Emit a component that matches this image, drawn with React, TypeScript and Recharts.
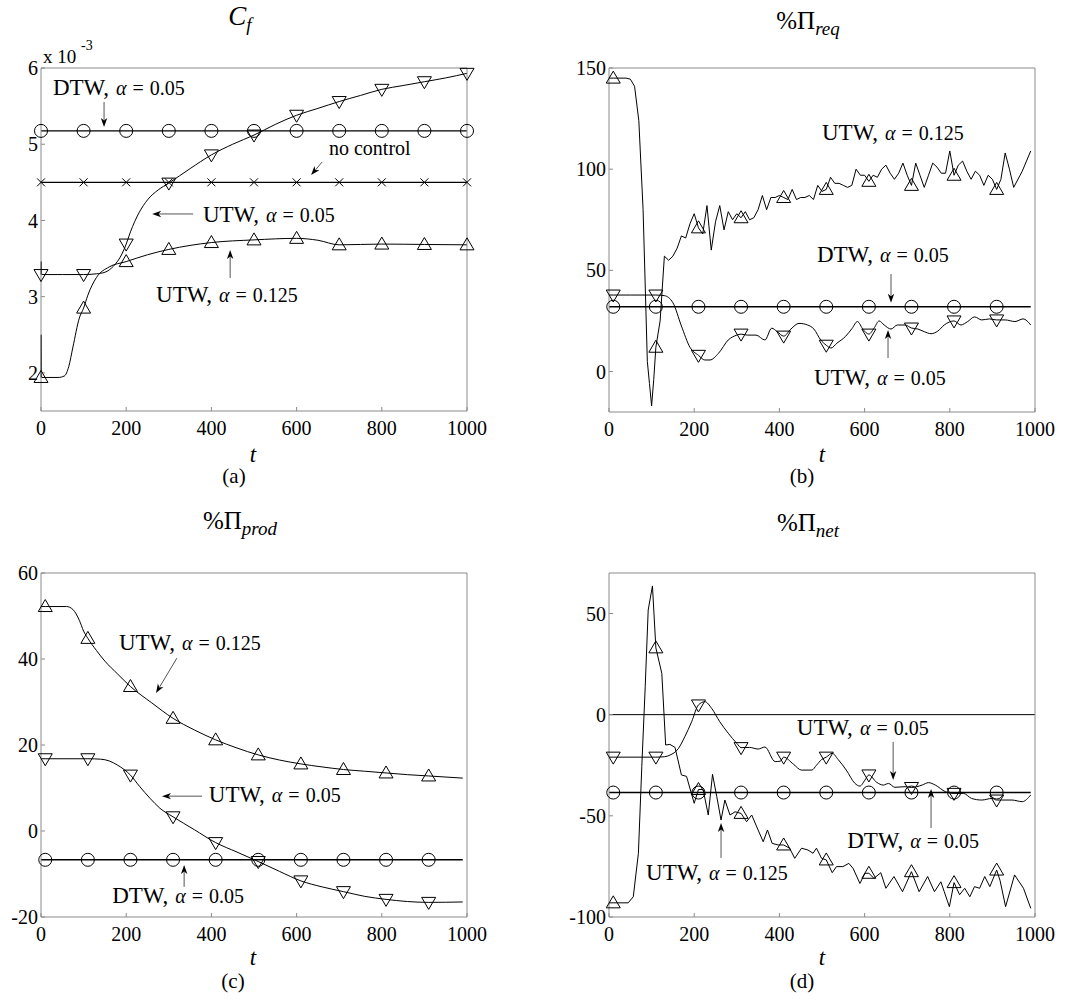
import React from 'react';
import { LineChart, Line, XAxis, YAxis, ReferenceLine, ReferenceDot } from 'recharts';

const FONT = 'Liberation Serif, DejaVu Serif, serif';
const AXIS = '#8a8a8a';

// ---------------- tick labels ----------------
const xTicks = [0, 200, 400, 600, 800, 1000];
const aYTicks = [2, 3, 4, 5, 6];
const bYTicks = [0, 50, 100, 150];
const cYTicks = [-20, 0, 20, 40, 60];
const dYTicks = [-100, -50, 0, 50];

// marker positions
const aMarkT = [0, 100, 200, 300, 400, 500, 600, 700, 800, 900, 1000];
const bMarkT = [10, 110, 210, 310, 410, 510, 610, 710, 810, 910];

// ---------------- (a) C_f  (x 10^-3) ----------------
const aDtwT = [0, 100, 200, 300, 400, 500, 600, 700, 800, 900, 1000];
const aDtwV = [5.175, 5.175, 5.175, 5.175, 5.175, 5.175, 5.175, 5.175, 5.175, 5.175, 5.175];
const aNoCtrlT = [0, 100, 200, 300, 400, 500, 600, 700, 800, 900, 1000];
const aNoCtrlV = [4.5, 4.5, 4.5, 4.5, 4.5, 4.5, 4.5, 4.5, 4.5, 4.5, 4.5];
const aUtw05T = [0, 0.6, 1.5, 50, 100, 130, 150, 170, 190, 200, 210, 230, 250, 275, 300, 350, 400, 450, 500, 550, 600, 650, 700, 750, 800, 850, 900, 950, 1000];
const aUtw05V = [3.29, 3.46, 3.29, 3.29, 3.29, 3.3, 3.32, 3.4, 3.56, 3.69, 3.85, 4.1, 4.27, 4.4, 4.49, 4.68, 4.86, 5.0, 5.12, 5.26, 5.38, 5.47, 5.56, 5.64, 5.72, 5.77, 5.82, 5.87, 5.93];
const aUtw125T = [0, 0.6, 1.5, 40, 55, 65, 75, 90, 100, 110, 130, 160, 200, 250, 300, 400, 500, 600, 650, 700, 800, 900, 1000];
const aUtw125V = [1.94, 2.5, 1.94, 1.94, 1.96, 2.08, 2.34, 2.72, 2.85, 3.02, 3.25, 3.39, 3.46, 3.55, 3.62, 3.71, 3.745, 3.765, 3.74, 3.68, 3.69, 3.685, 3.68];

// ---------------- (b) %Pi_req ----------------
const bDtwT = [0, 10, 110, 210, 310, 410, 510, 610, 710, 810, 910, 990];
const bDtwV = [32, 32, 32, 32, 32, 32, 32, 32, 32, 32, 32, 32];
const bUtw05T = [0, 10, 50, 110, 130, 150, 170, 190, 210, 225, 237, 257, 280, 300, 310, 325, 345, 366, 382, 395, 410, 427, 446, 466, 481, 497, 510, 521, 535, 555, 571, 583, 597, 610, 623, 634, 646, 662, 677, 695, 710, 725, 740, 756, 772, 787, 810, 826, 842, 858, 875, 893, 910, 930, 953, 972, 990];
const bUtw05V = [37.8, 37.8, 37.8, 37.8, 37.5, 34, 22.5, 12, 8, 5.7, 5.7, 9, 15.6, 18, 18.5, 18, 18, 15.6, 21.4, 19.7, 17.5, 21, 23.8, 23, 21, 15.6, 13, 11.6, 14, 17.3, 21.4, 24.7, 20.6, 18.5, 21.7, 25, 23, 21, 23, 23, 21.5, 21, 19.7, 18.7, 20, 23, 25, 23, 24.7, 27, 25.5, 26, 25.5, 25.5, 24.7, 26, 23];
const bUtw125T = [0, 10, 20, 40, 50, 60, 70, 80, 90, 95, 100, 105, 110, 120, 130, 140, 150, 160, 170, 180, 190, 200, 210, 220, 230, 240, 250, 260, 270, 280, 290, 300, 310, 320, 330, 340, 350, 360, 370, 380, 390, 400, 410, 420, 430, 440, 450, 460, 470, 480, 490, 500, 510, 520, 530, 540, 550, 560, 570, 580, 590, 600, 610, 620, 630, 640, 650, 660, 670, 680, 690, 700, 710, 720, 730, 740, 750, 760, 770, 780, 790, 800, 810, 820, 830, 840, 850, 860, 870, 880, 890, 900, 910, 920, 930, 940, 950, 970, 990];
const bUtw125V = [145, 145, 145, 145, 144.5, 141, 124, 80, 5, -6, -17, -4, 12, 25, 57, 55, 57, 61, 67, 66, 73, 78, 71, 68, 82, 60, 74, 82, 70, 79, 75, 78, 76, 79, 75, 76, 80, 87, 80, 86, 86, 87, 86, 85, 90, 85, 86, 86, 87, 85, 92, 89, 90, 96, 93, 93, 92, 91, 92, 100, 97, 97, 94, 97, 96, 100, 102, 98, 95, 98, 103, 97, 92, 103, 97, 91, 97, 103, 101, 98, 98, 109, 97, 102, 104, 99, 95, 99, 97, 92, 97, 95, 90, 95, 108, 100, 91, 99, 109];

// ---------------- (c) %Pi_prod ----------------
const cDtwT = [0, 10, 110, 210, 310, 410, 510, 610, 710, 810, 910, 990];
const cDtwV = [-6.7, -6.7, -6.7, -6.7, -6.7, -6.7, -6.7, -6.7, -6.7, -6.7, -6.7, -6.7];
const cUtw125T = [0, 10, 60, 75, 90, 100, 110, 130, 150, 180, 210, 260, 310, 360, 410, 460, 510, 560, 610, 660, 710, 760, 810, 860, 910, 990];
const cUtw125V = [52.2, 52.2, 52.2, 51.5, 49, 46.5, 44.8, 42, 39.5, 36.5, 33.6, 29.8, 26.2, 23.5, 21.2, 19.3, 17.7, 16.5, 15.6, 14.9, 14.3, 13.9, 13.5, 13.1, 12.8, 12.3];
const cUtw05T = [0, 10, 110, 140, 160, 180, 210, 232, 256, 279, 310, 360, 410, 460, 510, 560, 610, 660, 710, 760, 810, 860, 910, 990];
const cUtw05V = [16.8, 16.8, 16.8, 16.7, 16.3, 15.3, 13, 10.3, 7.6, 5.3, 3.3, 0.3, -2.7, -4.9, -7.1, -9.4, -11.6, -13, -14.1, -15.2, -15.9, -16.4, -16.6, -16.5];

// ---------------- (d) %Pi_net ----------------
const dZeroT = [0, 1000];
const dZeroV = [0, 0];
const dDtwT = [0, 10, 110, 210, 310, 410, 510, 610, 710, 810, 910, 990];
const dDtwV = [-38.5, -38.5, -38.5, -38.5, -38.5, -38.5, -38.5, -38.5, -38.5, -38.5, -38.5, -38.5];
const dUtw05T = [0, 10, 110, 130, 143, 163, 178, 194, 210, 225, 241, 260, 280, 300, 310, 330, 350, 366, 390, 402, 410, 433, 452, 476, 487, 499, 510, 524, 538, 557, 577, 589, 601, 610, 628, 644, 656, 671, 695, 710, 735, 750, 766, 790, 810, 832, 851, 875, 899, 910, 922, 946, 970, 990];
const dUtw05V = [-21, -21, -21, -20.8, -20, -16.7, -10.9, -3.5, 4.8, 6.4, 3.1, -3.5, -9.2, -14.2, -16.3, -16.2, -17, -16, -23.2, -23, -21, -24.5, -27.4, -27.4, -25, -22.2, -21, -19.1, -22.2, -27.4, -33.9, -35.3, -32.3, -29.8, -33.4, -34.8, -34, -35.9, -35.6, -36, -34.8, -33.6, -34.8, -38.1, -38.9, -38.9, -41.4, -42.2, -41.4, -42.2, -42.2, -42.2, -43, -39.7];
const dUtw125T = [0, 10, 45, 57, 69, 77, 85, 92, 102, 110, 124, 133, 143, 155, 170, 182, 200, 210, 221, 233, 243, 253, 263, 272, 284, 296, 310, 323, 335, 350, 362, 372, 383, 397, 410, 424, 436, 452, 467, 479, 487, 499, 510, 524, 534, 549, 563, 573, 589, 601, 610, 622, 638, 650, 669, 689, 710, 728, 748, 764, 779, 787, 799, 810, 823, 835, 847, 858, 870, 882, 894, 910, 918, 931, 952, 973, 990];
const dUtw125V = [-93, -93, -93, -90, -68.5, -25.7, 13.8, 51.7, 63.6, 33, 20.4, -15, -14.7, -16.2, -29.8, -30.5, -43.8, -37, -37, -49.6, -29.5, -40.5, -52.1, -42.2, -49.6, -48, -48.8, -52.9, -49.6, -57, -62.8, -57, -63.6, -64.4, -64.4, -66, -71, -66, -66.9, -68.5, -66, -71, -71.8, -78.1, -75.1, -75.1, -73.5, -76, -83.4, -78.4, -78.4, -80.9, -78.1, -85.8, -80, -87.5, -77.6, -87.5, -80, -87.5, -82.6, -87.5, -94.9, -83, -89, -85.8, -90, -85, -85.8, -80, -85, -76.8, -82, -94.9, -79.2, -85.8, -95.7];

// ---------------- helpers ----------------
type Pt = { t: number; v: number };
const zip = (ts: number[], vs: number[]): Pt[] => ts.map((t, i) => ({ t, v: vs[i] }));

type MarkerKind = 'circle' | 'up' | 'down' | 'cross' | 'none';

const drawMarker = (kind: MarkerKind, cx: number, cy: number, key: string) => {
  const common = { fill: 'none', stroke: '#000', strokeWidth: 1 };
  if (kind === 'circle') return <circle key={key} cx={cx} cy={cy} r={6.5} {...common} />;
  if (kind === 'up')
    return <polygon key={key} points={`${cx},${cy - 7} ${cx - 7},${cy + 5} ${cx + 7},${cy + 5}`} {...common} />;
  if (kind === 'down')
    return <polygon key={key} points={`${cx},${cy + 7} ${cx - 7},${cy - 5} ${cx + 7},${cy - 5}`} {...common} />;
  if (kind === 'cross')
    return (
      <g key={key}>
        <line x1={cx - 4} y1={cy - 4} x2={cx + 4} y2={cy + 4} stroke="#000" strokeWidth={1} />
        <line x1={cx - 4} y1={cy + 4} x2={cx + 4} y2={cy - 4} stroke="#000" strokeWidth={1} />
      </g>
    );
  return <g key={key} />;
};

const makeDot = (kind: MarkerKind, marks: number[]) => (props: any) => {
  const { cx, cy, payload, index } = props;
  const key = `m-${index}`;
  if (kind === 'none' || cx == null || cy == null || !payload || !marks.includes(payload.t)) return <g key={key} />;
  return drawMarker(kind, cx, cy, key);
};

const EmptyTick = () => <g />;

const Arrow = (p: any) => {
  const { x1, y1, x2, y2 } = p;
  const dx = x2 - x1;
  const dy = y2 - y1;
  const len = Math.hypot(dx, dy) || 1;
  const ux = dx / len;
  const uy = dy / len;
  const hl = 9;
  const hw = 3.2;
  const bx = x2 - ux * hl;
  const by = y2 - uy * hl;
  const px = -uy;
  const py = ux;
  return (
    <g>
      <line x1={x1} y1={y1} x2={bx + ux * 2} y2={by + uy * 2} stroke="#555" strokeWidth={1} />
      <polygon
        points={`${x2},${y2} ${bx + px * hw},${by + py * hw} ${bx + ux * 2.5},${by + uy * 2.5} ${bx - px * hw},${by - py * hw}`}
        fill="#000"
      />
    </g>
  );
};

type LabelDef = { x: number; y: number; main: string; alpha?: string };
type ArrowDef = { x1: number; y1: number; x2: number; y2: number };
type SeriesDef = { data: Pt[]; kind: MarkerKind; marks: number[]; curve: 'linear' | 'monotoneX'; w: number };

const LabelText = ({ cx, cy, lab }: { cx: number; cy: number; lab: LabelDef }) => (
  <text x={cx} y={cy} style={{ fontFamily: FONT }} fill="#000">
    {lab.alpha ? (
      <>
        <tspan fontSize={23}>{lab.main}</tspan>
        <tspan fontSize={20} dx={7} fontStyle="italic">α</tspan>
        <tspan fontSize={20} dx={6}>=</tspan>
        <tspan fontSize={20} dx={6}>{lab.alpha}</tspan>
      </>
    ) : (
      <tspan fontSize={20}>{lab.main}</tspan>
    )}
  </text>
);

type PanelProps = {
  left: number;
  top: number;
  w: number;
  h: number;
  plot: { l: number; t: number; r: number; b: number };
  yDomain: [number, number];
  yTicks: number[];
  series: SeriesDef[];
  labels: LabelDef[];
  arrows: ArrowDef[];
};

const tickStyle = { fill: '#000', fontSize: 20, fontFamily: FONT, style: { fontFamily: FONT } };

const Panel = ({ left, top, w, h, plot, yDomain, yTicks, series, labels, arrows }: PanelProps) => {
  const margin = {
    top: plot.t - top - 1,
    left: plot.l - left - 1,
    right: left + w - plot.r - 1,
    bottom: top + h - plot.b - 1,
  };
  return (
    <div style={{ position: 'absolute', left, top, width: w, height: h, fontFamily: FONT }}>
      <LineChart width={w} height={h} margin={margin} style={{ fontFamily: FONT }}>
        <XAxis
          type="number"
          dataKey="t"
          domain={[0, 1000]}
          ticks={xTicks}
          interval={0}
          height={1}
          tickSize={-4}
          tickMargin={14}
          stroke={AXIS}
          tick={tickStyle}
        />
        <XAxis
          xAxisId="top"
          orientation="top"
          type="number"
          dataKey="t"
          domain={[0, 1000]}
          ticks={xTicks}
          interval={0}
          height={1}
          tickSize={-4}
          stroke={AXIS}
          tick={EmptyTick}
        />
        <YAxis
          type="number"
          domain={yDomain}
          ticks={yTicks}
          interval={0}
          width={1}
          tickSize={-4}
          tickMargin={7}
          stroke={AXIS}
          tick={tickStyle}
        />
        <YAxis
          yAxisId="right"
          orientation="right"
          type="number"
          domain={yDomain}
          ticks={yTicks}
          interval={0}
          width={1}
          tickSize={-4}
          stroke={AXIS}
          tick={EmptyTick}
        />
        {series.map((s, i) => (
          <Line
            key={`s${i}`}
            data={s.data}
            dataKey="v"
            type={s.curve}
            stroke="#000"
            strokeWidth={s.w}
            dot={makeDot(s.kind, s.marks)}
            activeDot={false}
            isAnimationActive={false}
          />
        ))}
        {arrows.map((a, i) => (
          <ReferenceLine
            key={`a${i}`}
            segment={[{ x: a.x1, y: a.y1 }, { x: a.x2, y: a.y2 }]}
            shape={(p: any) => <Arrow {...p} />}
          />
        ))}
        {labels.map((lab, i) => (
          <ReferenceDot
            key={`l${i}`}
            x={lab.x}
            y={lab.y}
            r={0}
            shape={(p: any) => <LabelText cx={p.cx} cy={p.cy} lab={lab} />}
          />
        ))}
      </LineChart>
    </div>
  );
};

// ---------------- panel definitions ----------------
const seriesA: SeriesDef[] = [
  { data: zip(aDtwT, aDtwV), kind: 'circle', marks: aMarkT, curve: 'linear', w: 1.4 },
  { data: zip(aNoCtrlT, aNoCtrlV), kind: 'cross', marks: aMarkT, curve: 'linear', w: 1.4 },
  { data: zip(aUtw05T, aUtw05V), kind: 'down', marks: aMarkT, curve: 'monotoneX', w: 1 },
  { data: zip(aUtw125T, aUtw125V), kind: 'up', marks: aMarkT, curve: 'monotoneX', w: 1 },
];
const seriesB: SeriesDef[] = [
  { data: zip(bDtwT, bDtwV), kind: 'circle', marks: bMarkT, curve: 'linear', w: 1.4 },
  { data: zip(bUtw05T, bUtw05V), kind: 'down', marks: bMarkT, curve: 'monotoneX', w: 1 },
  { data: zip(bUtw125T, bUtw125V), kind: 'up', marks: bMarkT, curve: 'linear', w: 1 },
];
const seriesC: SeriesDef[] = [
  { data: zip(cDtwT, cDtwV), kind: 'circle', marks: bMarkT, curve: 'linear', w: 1.4 },
  { data: zip(cUtw125T, cUtw125V), kind: 'up', marks: bMarkT, curve: 'monotoneX', w: 1 },
  { data: zip(cUtw05T, cUtw05V), kind: 'down', marks: bMarkT, curve: 'monotoneX', w: 1 },
];
const seriesD: SeriesDef[] = [
  { data: zip(dZeroT, dZeroV), kind: 'none', marks: [], curve: 'linear', w: 1 },
  { data: zip(dDtwT, dDtwV), kind: 'circle', marks: bMarkT, curve: 'linear', w: 1.4 },
  { data: zip(dUtw05T, dUtw05V), kind: 'down', marks: bMarkT, curve: 'monotoneX', w: 1 },
  { data: zip(dUtw125T, dUtw125V), kind: 'up', marks: bMarkT, curve: 'linear', w: 1 },
];

const labelsA: LabelDef[] = [
  { x: 28, y: 5.646, main: 'DTW,', alpha: '0.05' },
  { x: 676, y: 4.859, main: 'no control' },
  { x: 380, y: 3.98, main: 'UTW,', alpha: '0.05' },
  { x: 270, y: 2.93, main: 'UTW,', alpha: '0.125' },
];
const arrowsA: ArrowDef[] = [
  { x1: 148, y1: 5.554, x2: 148, y2: 5.226 },
  { x1: 660, y1: 4.767, x2: 634, y2: 4.596 },
  { x1: 357, y1: 4.085, x2: 261, y2: 4.085 },
  { x1: 444, y1: 3.245, x2: 444, y2: 3.612 },
];
const labelsB: LabelDef[] = [
  { x: 500, y: 114.4, main: 'UTW,', alpha: '0.125' },
  { x: 488, y: 54.1, main: 'DTW,', alpha: '0.05' },
  { x: 481, y: -6.7, main: 'UTW,', alpha: '0.05' },
];
const arrowsB: ArrowDef[] = [
  { x1: 662, y1: 48.2, x2: 662, y2: 34 },
  { x1: 655, y1: 6.7, x2: 655, y2: 20.5 },
];
const labelsC: LabelDef[] = [
  { x: 183, y: 42.1, main: 'UTW,', alpha: '0.125' },
  { x: 394, y: 6.7, main: 'UTW,', alpha: '0.05' },
  { x: 167, y: -16.7, main: 'DTW,', alpha: '0.05' },
];
const arrowsC: ArrowDef[] = [
  { x1: 319, y1: 40.2, x2: 270, y2: 32.1 },
  { x1: 378, y1: 8.1, x2: 284, y2: 8.1 },
  { x1: 336, y1: -13, x2: 336, y2: -7.9 },
];
const labelsD: LabelDef[] = [
  { x: 441, y: -10, main: 'UTW,', alpha: '0.05' },
  { x: 559, y: -65.9, main: 'DTW,', alpha: '0.05' },
  { x: 87, y: -81.7, main: 'UTW,', alpha: '0.125' },
];
const arrowsD: ArrowDef[] = [
  { x1: 667, y1: -13.5, x2: 667, y2: -32.3 },
  { x1: 756, y1: -56, x2: 756, y2: -36.7 },
  { x1: 263, y1: -70.8, x2: 263, y2: -53.5 },
];

const Overlay = () => (
  <svg
    width={1091}
    height={1000}
    style={{ position: 'absolute', left: 0, top: 0, pointerEvents: 'none', fontFamily: FONT }}
  >
    {/* titles */}
    <text x={240} y={25} textAnchor="middle" fill="#000">
      <tspan fontSize={27} fontStyle="italic">C</tspan>
      <tspan fontSize={19} fontStyle="italic" dy={6}>f</tspan>
    </text>
    <text x={808} y={29} textAnchor="middle" fill="#000">
      <tspan fontSize={25}>%Π</tspan>
      <tspan fontSize={19} fontStyle="italic" dy={6}>req</tspan>
    </text>
    <text x={240} y={529} textAnchor="middle" fill="#000">
      <tspan fontSize={25}>%Π</tspan>
      <tspan fontSize={19} fontStyle="italic" dy={6}>prod</tspan>
    </text>
    <text x={808} y={531} textAnchor="middle" fill="#000">
      <tspan fontSize={25}>%Π</tspan>
      <tspan fontSize={19} fontStyle="italic" dy={6}>net</tspan>
    </text>
    {/* exponent */}
    <text x={43} y={63} fill="#000" fontSize={19}>x 10</text>
    <text x={81} y={50} fill="#000" fontSize={14}>-3</text>
    {/* axis labels */}
    <text x={253} y={462} textAnchor="middle" fontSize={23} fontStyle="italic" fill="#000">t</text>
    <text x={822} y={462} textAnchor="middle" fontSize={23} fontStyle="italic" fill="#000">t</text>
    <text x={253} y={965} textAnchor="middle" fontSize={23} fontStyle="italic" fill="#000">t</text>
    <text x={822} y={965} textAnchor="middle" fontSize={23} fontStyle="italic" fill="#000">t</text>
    {/* panel letters */}
    <text x={234} y={483} textAnchor="middle" fontSize={21} fill="#000">(a)</text>
    <text x={802} y={483} textAnchor="middle" fontSize={21} fill="#000">(b)</text>
    <text x={233} y={988} textAnchor="middle" fontSize={21} fill="#000">(c)</text>
    <text x={802} y={988} textAnchor="middle" fontSize={21} fill="#000">(d)</text>
  </svg>
);

export default function App() {
  return (
    <div style={{ position: 'absolute', left: 0, top: 0, width: 1091, height: 1000, background: '#fff', overflow: 'hidden', fontFamily: FONT }}>
      <Panel left={0} top={0} w={545} h={500} plot={{ l: 41, t: 68, r: 467, b: 411 }} yDomain={[1.5, 6]} yTicks={aYTicks} series={seriesA} labels={labelsA} arrows={arrowsA} />
      <Panel left={545} top={0} w={546} h={500} plot={{ l: 609, t: 68, r: 1035, b: 412 }} yDomain={[-20, 150]} yTicks={bYTicks} series={seriesB} labels={labelsB} arrows={arrowsB} />
      <Panel left={0} top={500} w={545} h={500} plot={{ l: 41, t: 573, r: 467, b: 917 }} yDomain={[-20, 60]} yTicks={cYTicks} series={seriesC} labels={labelsC} arrows={arrowsC} />
      <Panel left={545} top={500} w={546} h={500} plot={{ l: 609, t: 573, r: 1035, b: 917 }} yDomain={[-100, 70]} yTicks={dYTicks} series={seriesD} labels={labelsD} arrows={arrowsD} />
      <Overlay />
    </div>
  );
}
